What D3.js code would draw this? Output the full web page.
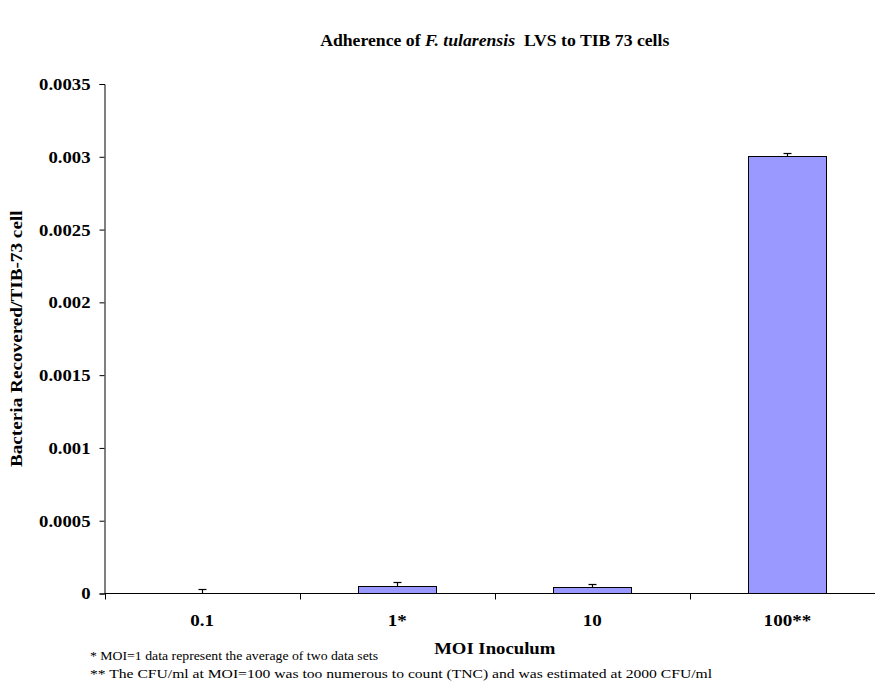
<!DOCTYPE html>
<html><head><meta charset="utf-8">
<script src="https://cdn.jsdelivr.net/npm/d3@7"></script>
<style>body{margin:0;background:#fff}svg{display:block}text{font-family:"Liberation Serif","Times New Roman",serif}</style>
</head><body><svg id="c" width="875" height="696"></svg>
<script>
const categories = ["0.1","1*","10","100**"];
const values = [0.000001, 0.000046, 0.000039, 0.0030];
const errors = [0.000028, 0.000028, 0.000026, 0.000025];
const yTicks = [0,0.0005,0.001,0.0015,0.002,0.0025,0.003,0.0035];
const yTickLabels = ["0","0.0005","0.001","0.0015","0.002","0.0025","0.003","0.0035"];

const svg = d3.select("#c");
const L=104.5, R=885, T=84, B=593.5;
const x = d3.scaleBand().domain(categories).range([L,R]).paddingInner(0.6).paddingOuter(0.3);
const xb = d3.scaleBand().domain(categories).range([L,R]);
const y = d3.scaleLinear().domain([0,0.0035]).range([B,T]);
const py = v => Math.round(y(v)-0.5)+0.5;

function stretch(sel,k){ sel.each(function(){ const n=this; const w=n.getComputedTextLength(); d3.select(n).attr("textLength",w*k).attr("lengthAdjust","spacingAndGlyphs"); }); }

// bars
svg.selectAll("rect.bar").data(values).join("rect")
  .attr("x",(d,i)=>Math.round(x(categories[i]))+0.5)
  .attr("y",d=>py(d))
  .attr("width",Math.round(x.bandwidth()))
  .attr("height",d=>B-py(d))
  .attr("fill","#9999ff").attr("stroke","#000").attr("stroke-width",1);

// error bars
const eb = svg.append("g").attr("stroke","#000").attr("stroke-width",1.2);
values.forEach((v,i)=>{
  const cx = Math.round(xb(categories[i])+xb.bandwidth()/2)+0.5;
  eb.append("line").attr("x1",cx).attr("x2",cx).attr("y1",py(v)).attr("y2",py(v+errors[i]));
  eb.append("line").attr("x1",cx-4).attr("x2",cx+4).attr("y1",py(v+errors[i])).attr("y2",py(v+errors[i]));
});

// y axis
const ya = svg.append("g").attr("transform",`translate(${L},0)`)
  .call(d3.axisLeft(y).tickValues(yTicks).tickFormat((d,i)=>yTickLabels[i]).tickSize(5).tickPadding(9));
ya.select(".domain").attr("stroke","#000");
ya.selectAll("text").attr("font-size",17).attr("font-weight","bold").attr("fill","#000")
  .style("font-family","'Liberation Serif',serif");
stretch(ya.selectAll("text"),1.1);

// x axis
const xa = svg.append("g").attr("transform",`translate(0,${B})`);
xa.append("line").attr("x1",L).attr("x2",R).attr("stroke","#000");
xa.selectAll("line.tk").data(categories.concat(["end"])).join("line").attr("class","tk")
  .attr("x1",(d,i)=>Math.round(L+i*xb.step())+0.5).attr("x2",(d,i)=>Math.round(L+i*xb.step())+0.5)
  .attr("y1",0).attr("y2",6).attr("stroke","#000");
const xt = xa.selectAll("text").data(categories).join("text")
  .attr("x",d=>xb(d)+xb.bandwidth()/2).attr("y",32)
  .attr("text-anchor","middle").attr("font-size",17).attr("font-weight","bold").text(d=>d);
stretch(xt,1.12);

// titles
const cxp = (L+R)/2;
const t = svg.append("text").attr("x",cxp).attr("y",46).attr("text-anchor","middle")
  .attr("font-size",17).attr("font-weight","bold").attr("xml:space","preserve");
t.append("tspan").text("Adherence of ");
t.append("tspan").attr("font-style","italic").text("F. tularensis");
t.append("tspan").text("  LVS to TIB 73 cells");
stretch(t,1.04);

const xl = svg.append("text").attr("x",cxp).attr("y",654).attr("text-anchor","middle")
  .attr("font-size",17.5).attr("font-weight","bold").text("MOI Inoculum");
stretch(xl,1.07);

const yl = svg.append("text").attr("transform",`translate(22,${(T+B)/2}) rotate(-90)`).attr("text-anchor","middle")
  .attr("font-size",16).attr("font-weight","bold").text("Bacteria Recovered/TIB-73 cell");
stretch(yl,1.2);

svg.append("text").attr("x",90).attr("y",660).attr("font-size",13.5).attr("textLength",288).attr("lengthAdjust","spacingAndGlyphs")
  .text("* MOI=1 data represent the average of two data sets");
svg.append("text").attr("x",90).attr("y",678).attr("font-size",13.5).attr("textLength",622).attr("lengthAdjust","spacingAndGlyphs")
  .text("** The CFU/ml at MOI=100 was too numerous to count (TNC) and was estimated at 2000 CFU/ml");
</script></body></html>
